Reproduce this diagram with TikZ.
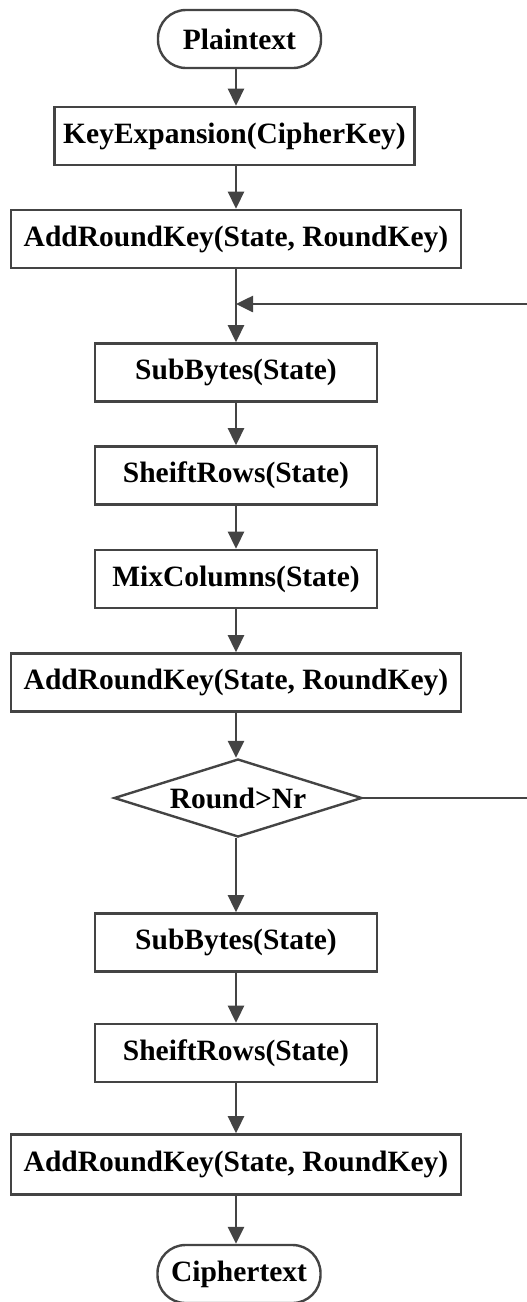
\documentclass[tikz,border=0pt]{standalone}
\usepackage{fontspec}
\setmainfont{Liberation Serif}
\usetikzlibrary{shapes.geometric,arrows.meta}
\definecolor{linegray}{HTML}{444444}
\begin{document}
\begin{tikzpicture}[x=1pt,y=-1pt,
  every node/.style={font=\fontsize{29.5}{31}\selectfont\bfseries, text=black, inner sep=0pt},
  procbox/.style={draw=linegray, line width=2.6pt, rectangle, minimum height=58pt},
  terminal/.style={draw=linegray, line width=2.4pt, rectangle, rounded corners=28pt, minimum width=163pt, minimum height=58pt},
  decision/.style={draw=linegray, line width=2.4pt, diamond, shape aspect=3.125, minimum width=248pt, minimum height=78pt},
  flow/.style={draw=linegray, line width=2.6pt, -{Triangle[length=17pt,width=16pt]}},
  plainline/.style={draw=linegray, line width=2.6pt}]
\useasboundingbox (0,0) rectangle (527,1302);

% start / end terminals
\node[terminal] (pt) at (239.5,39) {Plaintext};
\node[terminal] (ct) at (239,1274) {Ciphertext};

% initial round
\node[procbox, minimum width=360pt] (ke)   at (234.5,136)  {KeyExpansion(CipherKey)};
\node[procbox, minimum width=450pt] (ark1) at (236,239)    {AddRoundKey(State, RoundKey)};

% main rounds
\node[procbox, minimum width=282pt] (sb1)  at (236,372.5)  {SubBytes(State)};
\node[procbox, minimum width=282pt] (sr1)  at (236,475.5)  {SheiftRows(State)};
\node[procbox, minimum width=282pt] (mc)   at (236,579)    {MixColumns(State)};
\node[procbox, minimum width=450pt] (ark2) at (236,682.5)  {AddRoundKey(State, RoundKey)};

% round counter test
\node[decision] (dec) at (238,798) {Round>Nr};

% final round
\node[procbox, minimum width=282pt] (sb2)  at (236,942.5)  {SubBytes(State)};
\node[procbox, minimum width=282pt] (sr2)  at (236,1053)   {SheiftRows(State)};
\node[procbox, minimum width=450pt, minimum height=60pt] (ark3) at (236,1164.5) {AddRoundKey(State, RoundKey)};

% loop-back points
\coordinate (join)  at (236,304);
\coordinate (backR) at (527,304);
\coordinate (outR)  at (527,798);

% main flow
\draw[flow] (pt.south -| join) -- (ke.north -| join);
\draw[flow] (ke.south -| join) -- (ark1.north -| join);
\draw[flow] (ark1.south) -- (sb1.north);
\draw[flow] (sb1) -- (sr1);
\draw[flow] (sr1) -- (mc);
\draw[flow] (mc) -- (ark2);
\draw[flow] (ark2.south) -- (dec.north -| join);
\draw[flow] (dec.south -| join) -- (sb2.north);
\draw[flow] (sb2) -- (sr2);
\draw[flow] (sr2) -- (ark3);
\draw[flow] (ark3.south) -- (ct.north -| join);

% loop connectors
\draw[plainline] (dec.east) -- (outR);
\draw[flow] (backR) -- (join);
\end{tikzpicture}
\end{document}
